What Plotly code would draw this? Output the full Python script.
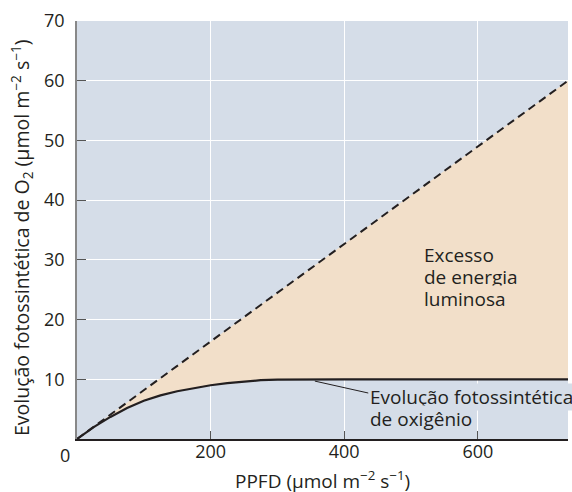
import plotly.graph_objects as go

# Data
ppfd_curve = [0, 25, 50, 75, 100, 125, 150, 175, 200, 225, 250, 275, 300, 350, 400, 500, 600, 735]
o2_curve = [0, 2.0, 3.7, 5.2, 6.4, 7.3, 8.0, 8.55, 9.0, 9.35, 9.65, 9.85, 9.95, 10, 10, 10, 10, 10]
ppfd_line = [0, 735]
o2_line = [0, 60]
x_ticks = [200, 400, 600, 735]
x_ticktext = ["200", "400", "600", ""]
y_ticks = [10, 20, 30, 40, 50, 60, 70]
excess_lines = ["Excesso", "de energia", "luminosa"]
excess_y = [30.8, 27.1, 23.45]
curve_label_lines = ["Evolução fotossintética", "de oxigênio"]
curve_label_y = [7.0, 3.35]

FONT = "Open Sans"
TXT = "#231f20"
BG = "#d5dde8"
PEACH = "#f2dfc9"

fig = go.Figure()
fig.add_trace(go.Scatter(x=ppfd_curve, y=o2_curve, mode="lines",
                         line=dict(width=0, color=TXT), hoverinfo="skip", showlegend=False))
fig.add_trace(go.Scatter(x=ppfd_line, y=o2_line, mode="lines", fill="tonexty",
                         fillcolor=PEACH,
                         line=dict(color=TXT, width=2, dash="8px,5px"), showlegend=False))
fig.add_trace(go.Scatter(x=ppfd_curve, y=o2_curve, mode="lines",
                         line=dict(color=TXT, width=2.2), showlegend=False))

fig.update_layout(
    width=572, height=492,
    margin=dict(l=77, r=4, t=21, b=53),
    paper_bgcolor="white", plot_bgcolor=BG,
    font=dict(family=FONT, color=TXT, size=18),
    xaxis=dict(range=[0, 735], tickvals=x_ticks, ticktext=x_ticktext,
               ticks="inside", ticklen=8, tickwidth=1.3, tickcolor="#555",
               showgrid=True, gridcolor="white", gridwidth=1.3,
               showline=True, linecolor=TXT, linewidth=2,
               zeroline=False, layer="above traces", automargin=False,
               ticklabelstandoff=-5,
               tickfont=dict(size=18)),
    yaxis=dict(range=[0, 70], tickvals=y_ticks,
               ticks="inside", ticklen=9, tickwidth=1.3, tickcolor="#555",
               showgrid=True, gridcolor="white", gridwidth=1.3,
               showline=True, linecolor="#888", linewidth=1.5,
               zeroline=False, layer="above traces", automargin=False,
               ticklabelstandoff=7,
               tickfont=dict(size=18)),
)

# axis titles
fig.add_annotation(x=0.5, y=0, xref="paper", yref="paper", yanchor="middle",
                   text="PPFD (μmol m<sup>−2</sup> s<sup>−1</sup>)", showarrow=False,
                   yshift=-41, font=dict(size=19))
fig.add_annotation(x=0, y=0.5, xref="paper", yref="paper", xanchor="center",
                   text="Evolução fotossintética de O<sub>2</sub> (μmol m<sup>−2</sup> s<sup>−1</sup>)",
                   showarrow=False, textangle=-90, xshift=-56, yshift=-8, font=dict(size=19.5))

fig.add_annotation(x=0, y=0, xref="x", yref="paper", text="0", showarrow=False,
                   xshift=-12, yshift=-30, font=dict(size=18))

for txt, yy in zip(excess_lines, excess_y):
    fig.add_annotation(x=518, y=yy, xref="x", yref="y", xanchor="left", yanchor="middle",
                       align="left", text=txt, showarrow=False,
                       bgcolor=PEACH, borderpad=0, font=dict(size=19))
for txt, yy in zip(curve_label_lines, curve_label_y):
    fig.add_annotation(x=437, y=yy, xref="x", yref="y", xanchor="left", yanchor="middle",
                       align="left", text=txt, showarrow=False,
                       bgcolor=BG, borderpad=0, font=dict(size=19))
fig.add_shape(type="line", x0=356, y0=9.7, x1=436, y1=7.7, xref="x", yref="y",
              line=dict(color=TXT, width=1))

fig.write_html("out.html", config={"displayModeBar": False},
               post_script="document.body.style.margin='0';document.body.style.overflow='hidden';")
